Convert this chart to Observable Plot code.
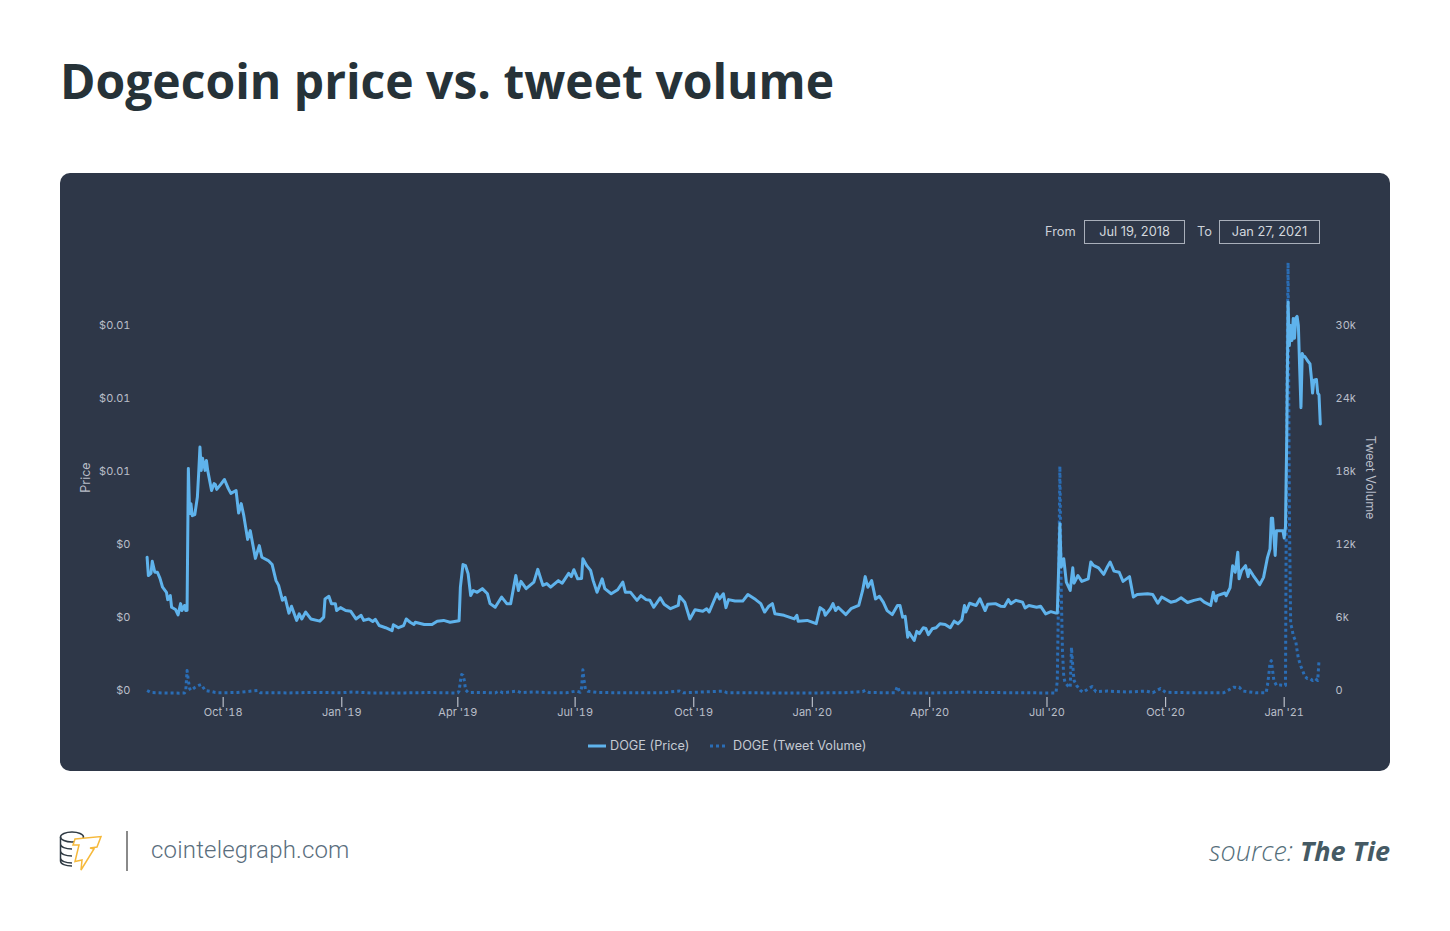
<!DOCTYPE html>
<html>
<head>
<meta charset="utf-8">
<script src="https://cdn.jsdelivr.net/npm/d3@7"></script>
<script src="https://cdn.jsdelivr.net/npm/@observablehq/plot@0.6"></script>
<style>
html,body{margin:0;padding:0;background:#fff;width:1450px;height:931px;overflow:hidden}
.abs{position:absolute;white-space:nowrap}
#title{left:60px;top:48px;font:700 48px/66px "Open Sans",sans-serif;color:#263238}
#panel{left:60px;top:173px;width:1330px;height:598px}
.ctl{font:400 12.8px/16px Inter,sans-serif;color:#ccd1d9}
.box{box-sizing:border-box;border:1.5px solid #a9afba;height:24px;text-align:center;font:400 12.8px/21px Inter,sans-serif;color:#d3d7de}
.leg{font:400 12.7px/16px Inter,sans-serif;color:#c5cad3}
#site{left:151px;top:834px;font:300 24px/32px Roboto,sans-serif;color:#5a6e7d;letter-spacing:.18px}
#source{right:60px;top:831px;font:italic 300 27px/40px "Open Sans",sans-serif;color:#546e7a}
#source b{font-weight:700;color:#455a64}
</style>
</head>
<body>
<div class="abs" id="title">Dogecoin price vs. tweet volume</div>
<div class="abs" id="panel"></div>
<div class="abs ctl" style="left:1045px;top:224px">From</div>
<div class="abs box" style="left:1084px;top:220px;width:101px">Jul 19, 2018</div>
<div class="abs ctl" style="left:1197px;top:224px">To</div>
<div class="abs box" style="left:1219px;top:220px;width:101px">Jan 27, 2021</div>
<svg class="abs" style="left:588px;top:738px" width="150" height="16">
  <line x1="0" x2="18" y1="8" y2="8" stroke="#5fb3ec" stroke-width="3"/>
  <line x1="122" x2="140" y1="8" y2="8" stroke="#2a6db5" stroke-width="3" stroke-dasharray="3 3"/>
</svg>
<div class="abs leg" style="left:610px;top:738px">DOGE (Price)</div>
<div class="abs leg" style="left:733px;top:738px">DOGE (Tweet Volume)</div>
<svg class="abs" style="left:58px;top:828px" width="50" height="46" fill="none">
  <g stroke="#2f3a43" stroke-width="1.5">
    <ellipse cx="14" cy="9" rx="11.500" ry="5"/>
    <path d="M2.500 9v24c0 3 5 5 11.500 5M2.500 16c0 3 5 5 11.500 5M2.500 23c0 3 5 5 11.500 5M2.500 30c0 3 5 5 11.500 5"/>
  </g>
  <path d="M17 11 L43 8.500 L39 19 L32 20 L36 21 L23 42 L24 32 L17 33.500 L21 17 L15 17 Z" fill="#fff" stroke="#f6b93b" stroke-width="1.500" stroke-linejoin="miter"/>
</svg>
<div class="abs" style="left:126px;top:831px;width:2px;height:40px;background:#8a8a8a"></div>
<div class="abs" id="site">cointelegraph.com</div>
<div class="abs" id="source">source: <b>The Tie</b></div>
<script>
const startDate = new Date(Date.UTC(2018, 7, 3));

const priceDay = [
0,1,3,4,6,8,10,12,15,16,
18,19,22,24,26,27,29,30,31,32,
33,34,35,37,39,40,41,42,43,45,
46,47,50,52,53,54,57,60,63,65,
69,71,73,75,78,80,84,87,89,94,
97,100,102,105,107,110,112,116,118,120,
123,127,134,137,138,141,143,146,147,150,
154,158,162,166,168,172,175,177,180,185,
190,191,195,199,201,204,207,208,215,221,
225,230,235,242,243,245,247,249,251,253,
256,260,264,266,270,275,279,282,286,288,
290,294,300,303,307,310,313,319,322,327,
329,331,334,337,338,341,344,346,349,353,
355,360,365,369,371,375,380,383,387,390,
393,398,401,406,412,413,417,421,425,431,
434,436,442,444,447,449,451,456,462,466,
472,476,479,482,485,487,494,502,504,505,
512,519,522,525,526,530,532,534,536,542,
546,552,555,557,559,562,565,568,571,574,
578,582,584,586,588,590,591,595,597,599,
602,604,606,609,612,615,619,623,626,629,
632,634,635,638,643,646,650,652,658,662,
665,668,670,674,679,681,684,690,693,697,
701,705,706,707,708,709,711,713,716,718,
719,722,725,730,732,734,738,742,745,747,
750,754,757,762,765,768,776,780,784,787,
794,798,802,807,812,817,820,825,827,829,
830,836,837,840,842,844,846,847,849,852,
854,855,858,863,866,869,871,872,873,875,
876,881,882,883,884,885,886,887,888,889,
890,891,892,893,894,895,896,897,898,900,
902,903,904,905,907,908,909,910];

const priceUsd = [
.00365,.00315,.00321,.00354,.00324,.00324,.00307,.00283,.00269,.00249,
.00260,.00228,.00222,.00207,.00238,.00219,.00233,.00219,.00220,.00608,
.00485,.00512,.00479,.00482,.00530,.00595,.00667,.00603,.00636,.00603,
.00630,.00603,.00548,.00567,.00564,.00551,.00564,.00578,.00553,.00540,
.00548,.00486,.00512,.00479,.00414,.00438,.00362,.00397,.00365,.00356,
.00345,.00301,.00288,.00247,.00255,.00212,.00231,.00192,.00210,.00196,
.00215,.00196,.00190,.00201,.00251,.00258,.00238,.00238,.00219,.00227,
.00219,.00217,.00196,.00206,.00192,.00196,.00189,.00195,.00178,.00172,
.00164,.00180,.00172,.00178,.00196,.00187,.00181,.00187,.00181,.00181,
.00190,.00192,.00187,.00191,.00283,.00345,.00342,.00320,.00260,.00274,
.00269,.00279,.00265,.00238,.00228,.00256,.00238,.00238,.00315,.00274,
.00299,.00279,.00297,.00332,.00288,.00293,.00283,.00301,.00294,.00321,
.00312,.00331,.00306,.00307,.00361,.00342,.00329,.00301,.00269,.00306,
.00279,.00265,.00276,.00297,.00269,.00269,.00247,.00260,.00249,.00247,
.00228,.00254,.00236,.00224,.00233,.00258,.00242,.00196,.00221,.00217,
.00224,.00215,.00265,.00251,.00265,.00227,.00249,.00245,.00245,.00263,
.00249,.00238,.00215,.00230,.00238,.00210,.00206,.00196,.00206,.00190,
.00192,.00183,.00227,.00219,.00206,.00224,.00238,.00219,.00228,.00208,
.00224,.00233,.00274,.00312,.00283,.00301,.00251,.00258,.00242,.00219,
.00208,.00233,.00233,.00201,.00203,.00146,.00159,.00137,.00162,.00156,
.00172,.00170,.00153,.00169,.00172,.00183,.00181,.00172,.00190,.00183,
.00194,.00233,.00215,.00239,.00233,.00251,.00219,.00236,.00238,.00231,
.00230,.00249,.00238,.00247,.00242,.00226,.00233,.00228,.00231,.00210,
.00216,.00212,.00212,.00330,.00457,.00338,.00361,.00297,.00274,.00336,
.00294,.00315,.00299,.00306,.00352,.00343,.00336,.00318,.00340,.00352,
.00327,.00324,.00299,.00312,.00256,.00263,.00265,.00263,.00239,.00256,
.00242,.00245,.00254,.00241,.00247,.00251,.00242,.00233,.00269,.00245,
.00260,.00267,.00260,.00281,.00342,.00324,.00379,.00306,.00329,.00342,
.00312,.00331,.00315,.00290,.00310,.00364,.00388,.00472,.00472,.00370,
.00438,.00438,.00418,.00449,.00700,.01064,.00945,.01000,.00959,.01019,
.00965,.01020,.01025,.01000,.00882,.00775,.00923,.00915,.00915,.00904,
.00895,.00860,.00815,.00850,.00852,.00815,.00810,.00730];

const tweetDay = [
0,3,14,25,29,30,31,32,33,34,
37,40,42,45,50,53,55,70,86,88,
110,130,150,160,175,200,220,240,241,242,
243,244,245,246,247,249,260,270,273,276,
287,290,300,310,325,333,336,337,338,339,
340,342,350,370,400,413,416,447,450,480,
500,540,555,557,560,580,582,584,600,620,
636,650,680,704,705,706,707,708,709,710,
711,712,714,716,717,718,719,721,724,726,
733,736,745,760,775,780,786,790,810,835,
843,845,847,850,860,868,869,870,871,872,
873,874,876,879,882,883,884,885,886,887,
888,889,890,891,892,893,894,895,896,898,
900,902,904,906,908,909];

const tweetCount = [
250,80,40,30,40,250,1890,1070,400,250,
490,660,740,250,160,80,60,80,250,60,
50,90,60,120,40,50,80,40,60,200,
1000,1560,1500,1100,300,90,90,50,200,60,
200,70,130,70,60,200,100,450,1950,1000,
350,180,80,60,70,200,60,190,60,50,
40,60,150,250,80,60,575,60,40,60,
120,80,60,40,60,1070,8470,18680,8740,3530,
1400,900,650,490,3800,2300,1070,660,250,100,
575,150,200,120,200,60,400,100,60,60,
520,480,520,200,60,60,660,1480,2550,2700,
1890,1070,660,700,660,660,24000,35420,15040,5750,
5340,4770,4520,4270,3530,2880,2550,2220,1970,1400,
1230,1230,1070,1230,1070,2710];

const quarterTicks = ["2018-10-01","2019-01-01","2019-04-01","2019-07-01","2019-10-01","2020-01-01","2020-04-01","2020-07-01","2020-10-01","2021-01-01"];
const volumeTicks = [0,6000,12000,18000,24000,30000];

const dayToDate = d => d3.utcDay.offset(startDate, d);
const priceToVolume = 0.01 / 30000;   // the left axis is the right axis rescaled
const priceRows = priceDay.map((d, i) => ({date: dayToDate(d), price: priceUsd[i]}));
const tweetRows = tweetDay.map((d, i) => ({date: dayToDate(d), tweets: tweetCount[i]}));

const chart = Plot.plot({
  width: 1330, height: 598,
  marginLeft: 70, marginRight: 55, marginTop: 0, marginBottom: 74,
  style: {background: "#2e3748", borderRadius: "10px", fontFamily: "Inter, sans-serif", fontSize: "11px", color: "#b9bec8", display: "block"},
  x: {type: "utc", domain: [dayToDate(0), dayToDate(910)], range: [86.6, 1259.8]},
  y: {domain: [0, 36000], range: [517, 79]},
  marks: [
    Plot.axisX(quarterTicks.map(s => new Date(s)), {anchor: "bottom", tickSize: 10, tickPadding: 1, tickFormat: d3.utcFormat("%b '%y"), label: null, strokeWidth: 1.2}),
    Plot.axisY(volumeTicks, {anchor: "left", tickSize: 0, tickPadding: 0, label: null, tickFormat: v => "$" + +(v * priceToVolume).toFixed(2)}),
    Plot.axisY(volumeTicks, {anchor: "right", tickSize: 0, tickPadding: 0, label: null, tickFormat: v => v === 0 ? "0" : (v / 1000) + "k"}),
    Plot.text(["Price"], {frameAnchor: "left", textAnchor: "middle", y: () => 17500, dx: -45, rotate: -90, fontSize: 12.5, fill: "#b9bec8"}),
    Plot.text(["Tweet Volume"], {frameAnchor: "right", textAnchor: "middle", y: () => 17500, dx: 34, rotate: 90, fontSize: 12.5, fill: "#b9bec8"}),
    Plot.line(tweetRows, {x: "date", y: "tweets", dy: 3, stroke: "#2a6db5", strokeWidth: 3, strokeDasharray: "3 3", strokeLinecap: "butt", curve: "linear"}),
    Plot.line(priceRows, {x: "date", y: d => d.price / priceToVolume, stroke: "#5fb3ec", strokeWidth: 3, curve: "linear"})
  ]
});
document.getElementById("panel").appendChild(chart);
</script>
</body>
</html>
